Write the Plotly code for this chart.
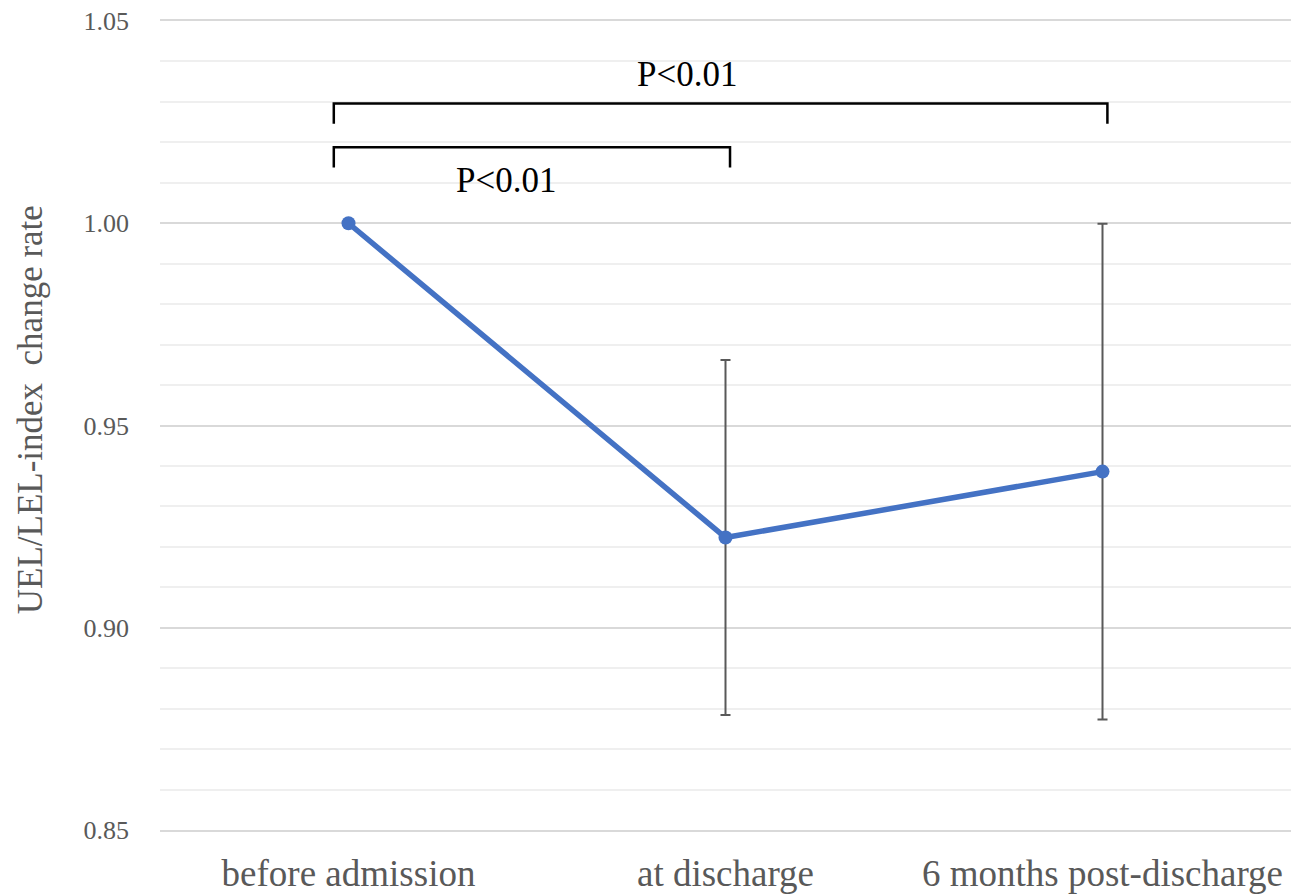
import plotly.graph_objects as go

categories = ["before admission", "at discharge", "6 months post-discharge"]
values = [1.000, 0.9223, 0.9386]
errors = [0.0, 0.0439, 0.0613]
y_ticks = [0.85, 0.90, 0.95, 1.00, 1.05]
y_title = "UEL/LEL-index  change rate"
p_labels = ["P<0.01", "P<0.01"]

FONT = "Liberation Serif, Times New Roman, serif"
GRAY = "#595959"

fig = go.Figure()
fig.add_trace(go.Scatter(
    x=categories, y=values, mode="lines+markers",
    line=dict(color="#4472C4", width=5.5),
    marker=dict(color="#4472C4", size=14),
    error_y=dict(type="data", array=errors, visible=True,
                 color=GRAY, thickness=2, width=5),
    showlegend=False, cliponaxis=False,
))

# significance brackets (category index units)
brackets = [
    dict(x0=-0.039, x1=2.013, ytop=1.0296, ybot=1.0246),
    dict(x0=-0.039, x1=1.012, ytop=1.0188, ybot=1.0138),
]
for b in brackets:
    fig.add_shape(type="path",
                  path=f"M {b['x0']},{b['ybot']} L {b['x0']},{b['ytop']} L {b['x1']},{b['ytop']} L {b['x1']},{b['ybot']}",
                  xref="x", yref="y", line=dict(color="black", width=2.5))

fig.add_annotation(x=0.897, y=1.0368, xref="x", yref="y", text=p_labels[0],
                   showarrow=False, font=dict(family=FONT, size=35, color="black"))
fig.add_annotation(x=0.419, y=1.0105, xref="x", yref="y", text=p_labels[1],
                   showarrow=False, font=dict(family=FONT, size=35, color="black"))

# y-axis title placed as rotated text
fig.add_annotation(x=-0.115, y=0.52, xref="paper", yref="paper", text=y_title,
                   textangle=-90, showarrow=False, xanchor="center", yanchor="middle",
                   font=dict(family=FONT, size=35, color=GRAY))

fig.update_layout(
    width=1291, height=894,
    margin=dict(l=160, r=0, t=21, b=64),
    paper_bgcolor="white", plot_bgcolor="white",
    font=dict(family=FONT, color=GRAY),
)
fig.update_xaxes(
    type="category", range=[-0.5, 2.5],
    showgrid=False, zeroline=False,
    showline=True, mirror=True, linecolor="#d9d9d9", linewidth=1.5,
    tickfont=dict(family=FONT, size=37, color=GRAY),
    ticks="", ticklabelstandoff=10,
)
fig.update_yaxes(
    range=[0.85, 1.05], tickvals=y_ticks, tickformat=".2f",
    showgrid=True, gridcolor="#d9d9d9", gridwidth=1.5,
    minor=dict(dtick=0.01, showgrid=True, gridcolor="#efefef", gridwidth=1.5),
    zeroline=False, showline=False, ticks="",
    tickfont=dict(family=FONT, size=26, color=GRAY),
    ticklabelstandoff=30,
)

fig.write_html("out.html", config={"displayModeBar": False},
               post_script="document.body.style.margin='0';")
